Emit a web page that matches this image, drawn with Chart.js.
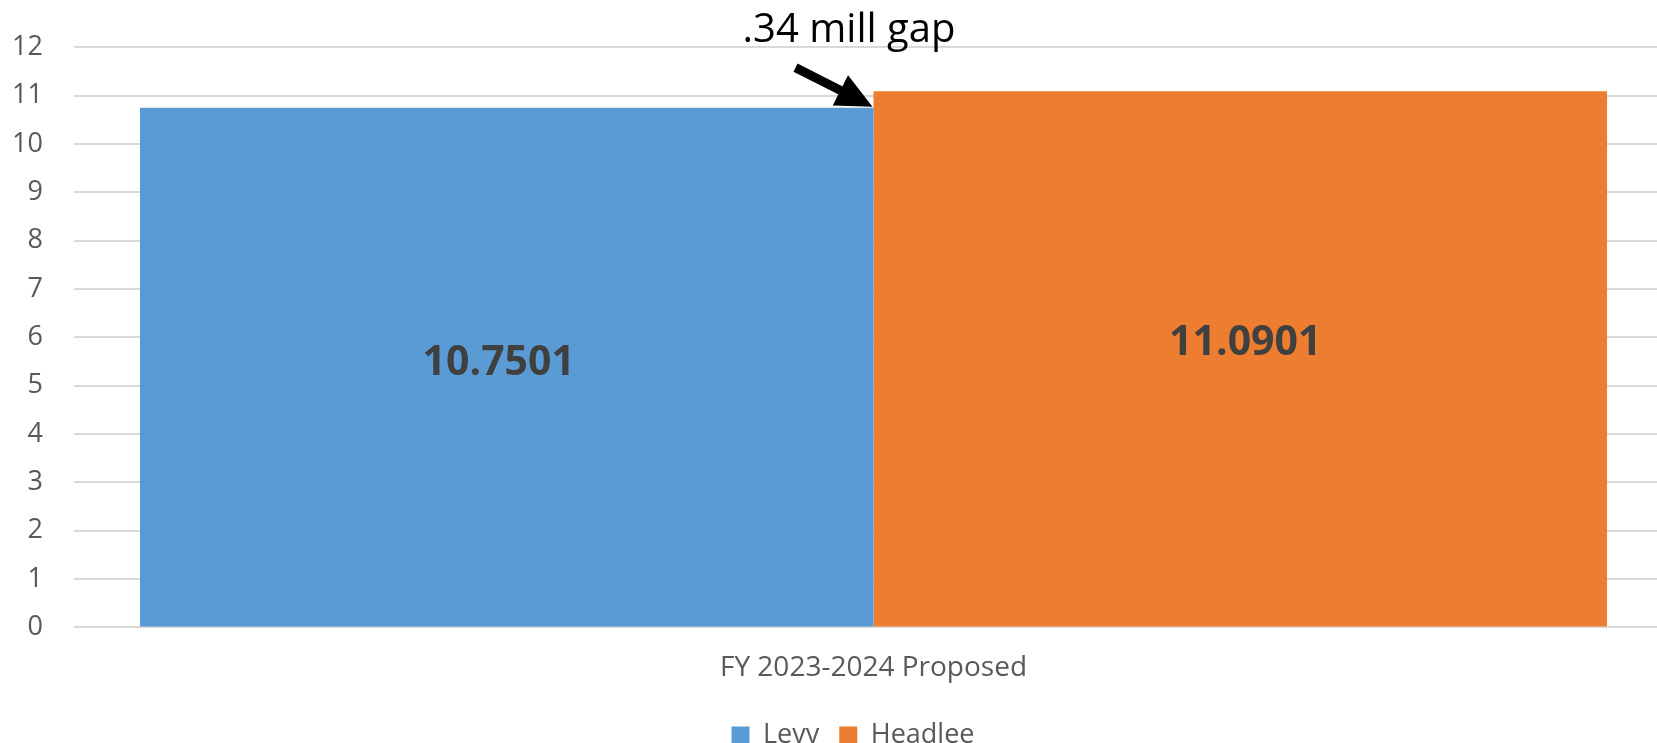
<!DOCTYPE html>
<html>
<head>
<meta charset="utf-8">
<script src="https://cdn.jsdelivr.net/npm/chart.js@4/dist/chart.umd.min.js"></script>
<style>
  html, body { margin: 0; padding: 0; background: #fff; overflow: hidden; }
  #wrap { position: absolute; left: 0; top: 0; width: 1720px; height: 759px; }
</style>
</head>
<body>
<div id="wrap"><canvas id="chart"></canvas></div>
<script>
// dati del grafico
const categories = ["FY 2023-2024 Proposed"];
const seriesNames = ["Levy", "Headlee"];
const levyValues = [10.7501];
const headleeValues = [11.0901];
const yTicks = [0, 1, 2, 3, 4, 5, 6, 7, 8, 9, 10, 11, 12];
const gapNote = ".34 mill gap";

const FONT = "'Open Sans', 'Noto Sans', sans-serif";
const textGrey = "#595959";

// etichette dati dentro le barre + freccia con nota
const labelsPlugin = {
  id: "labelsPlugin",
  afterDatasetsDraw(chart) {
    const ctx = chart.ctx;
    const offsets = [[-8, -4], [5, -15]];
    ctx.save();
    ctx.font = "bold 41px " + FONT;
    ctx.fillStyle = "#404040";
    ctx.textAlign = "center";
    ctx.textBaseline = "middle";
    chart.data.datasets.forEach((ds, i) => {
      const bar = chart.getDatasetMeta(i).data[0];
      const mid = (bar.y + bar.base) / 2;
      ctx.fillText(ds.data[0].toFixed(4), bar.x + offsets[i][0], mid + offsets[i][1]);
    });

    // freccia verso la cima della barra Levy
    const orange = chart.getDatasetMeta(1).data[0];
    const tipX = orange.x - orange.width / 2 - 1;
    const tipY = chart.scales.y.getPixelForValue(levyValues[0]) - 1;
    const tailX = tipX - 77, tailY = tipY - 39;
    const len = Math.hypot(tipX - tailX, tipY - tailY);
    const ux = (tipX - tailX) / len, uy = (tipY - tailY) / len;
    const headLen = 36, headHalf = 17;
    const bx = tipX - ux * headLen, by = tipY - uy * headLen;
    ctx.strokeStyle = "#000";
    ctx.fillStyle = "#000";
    ctx.lineWidth = 9;
    ctx.beginPath();
    ctx.moveTo(tailX, tailY);
    ctx.lineTo(bx + ux * 2, by + uy * 2);
    ctx.stroke();
    ctx.beginPath();
    ctx.moveTo(tipX, tipY);
    ctx.lineTo(bx - uy * headHalf, by + ux * headHalf);
    ctx.lineTo(bx + uy * headHalf, by - ux * headHalf);
    ctx.closePath();
    ctx.fill();

    ctx.font = "40px " + FONT;
    ctx.textAlign = "center";
    ctx.textBaseline = "alphabetic";
    ctx.fillText(gapNote, 849, 42);
    ctx.restore();
  }
};

new Chart(document.getElementById("chart"), {
  type: "bar",
  data: {
    labels: categories,
    datasets: [
      {
        label: seriesNames[0],
        data: levyValues,
        backgroundColor: "#5B9BD5",
        categoryPercentage: 0.9175,
        barPercentage: 1.0,
      },
      {
        label: seriesNames[1],
        data: headleeValues,
        backgroundColor: "#ED7D31",
        categoryPercentage: 0.9175,
        barPercentage: 1.0,
      },
    ],
  },
  options: {
    responsive: true,
    maintainAspectRatio: false,
    animation: false,
    layout: { padding: { left: 0, right: 14, top: 47, bottom: 0 } },
    plugins: {
      legend: {
        position: "bottom",
        labels: {
          boxWidth: 18,
          boxHeight: 18,
          padding: 13,
          color: textGrey,
          font: { family: FONT, size: 27 },
          // un po' più di spazio tra le voci, come in Excel
          generateLabels(chart) {
            const items = Chart.defaults.plugins.legend.labels.generateLabels(chart);
            items.forEach((it, i) => {
              if (i < items.length - 1) it.text = it.text + " ";
            });
            return items;
          },
        },
      },
      tooltip: { enabled: false },
    },
    scales: {
      x: {
        grid: { display: false, drawTicks: false },
        border: { display: false },
        ticks: { color: textGrey, padding: 24, font: { family: FONT, size: 28 } },
      },
      y: {
        min: 0,
        max: 12,
        afterFit(scale) { scale.width = 74; },
        afterBuildTicks(scale) { scale.ticks = yTicks.map((v) => ({ value: v })); },
        grid: { color: "#D9D9D9", lineWidth: 2, drawTicks: false },
        border: { display: false },
        ticks: { color: textGrey, padding: 31, font: { family: FONT, size: 27 } },
      },
      // asse vuoto a destra: serve solo a centrare la legenda come nell'originale
      y2: {
        position: "right",
        min: 0,
        max: 12,
        afterFit(scale) { scale.width = 33; },
        grid: { display: false, drawTicks: false },
        border: { display: false },
        ticks: { display: false },
      },
    },
  },
  plugins: [labelsPlugin],
});
</script>
</body>
</html>
